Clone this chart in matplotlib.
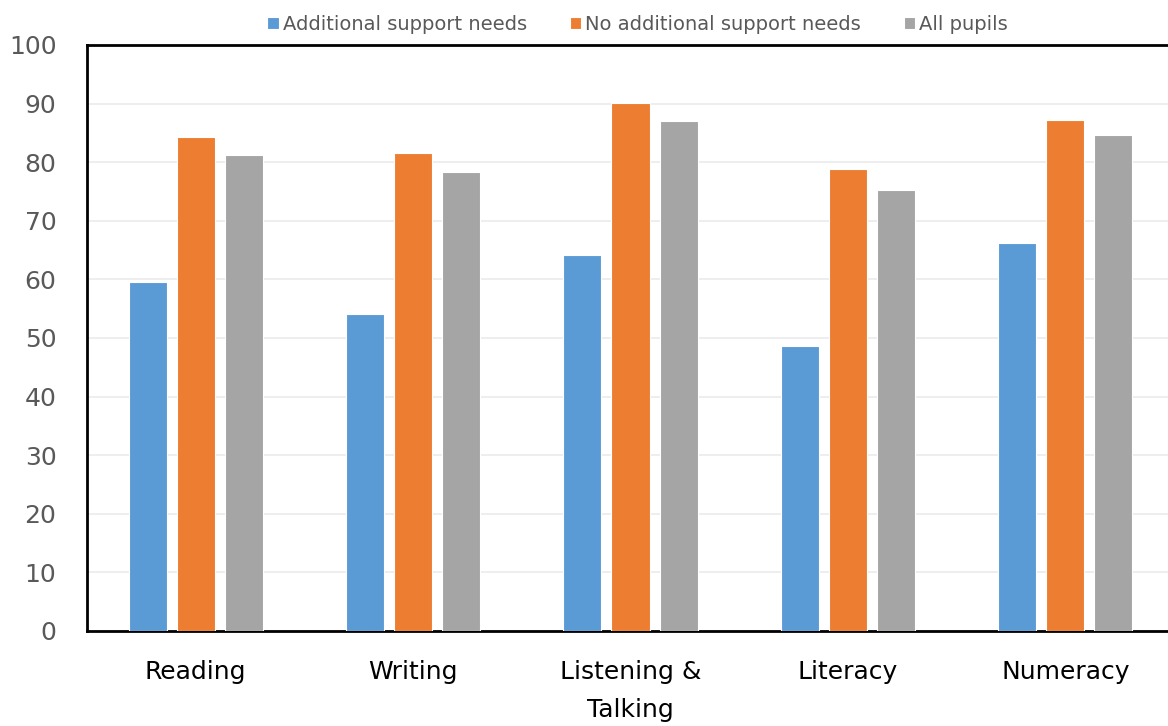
import numpy as np
import matplotlib.pyplot as plt

categories = ['Reading', 'Writing', 'Listening &\nTalking', 'Literacy', 'Numeracy']
asn = [59.6, 54.1, 64.2, 48.6, 66.2]
no_asn = [84.3, 81.6, 90.1, 78.8, 87.2]
all_pupils = [81.2, 78.3, 87.0, 75.3, 84.6]

series = [('Additional support needs', asn, '#5B9BD5'),
          ('No additional support needs', no_asn, '#ED7D31'),
          ('All pupils', all_pupils, '#A5A5A5')]

fig = plt.figure(figsize=(11.68, 7.26), dpi=100)
ax = fig.add_axes([87/1168, 1-631/726, 1087/1168, 586/726])

x = np.arange(len(categories))
w = 0.175
off = 0.221
for k, (name, vals, col) in enumerate(series):
	ax.bar(x + (k-1)*off, vals, w, color=col, edgecolor='white', linewidth=0.8, label=name, zorder=3)

ax.set_xlim(-0.5, 4.5)
ax.set_ylim(0, 100)
ax.set_yticks(range(0, 101, 10))
ax.set_xticks(x)
ax.set_xticklabels(categories, fontsize=18, color='black', linespacing=1.75)
ax.tick_params(axis='x', length=0, pad=21)
ax.tick_params(axis='y', length=0, pad=22, labelsize=18, labelcolor='#595959')
ax.grid(axis='y', color='#EBEBEB', linewidth=1.2, zorder=0)

for s in ['left', 'top', 'bottom']:
	ax.spines[s].set_linewidth(2)
	ax.spines[s].set_color('black')
ax.spines['right'].set_visible(False)

leg = ax.legend(loc='lower center', bbox_to_anchor=(0.5 + 7/1087, 1.006), ncol=3, frameon=False,
	fontsize=14, handlelength=0.6, handleheight=0.6, handletextpad=0.2, columnspacing=2.2, borderaxespad=0)
for t in leg.get_texts():
	t.set_color('#595959')

fig.savefig('out.png', dpi=100)
